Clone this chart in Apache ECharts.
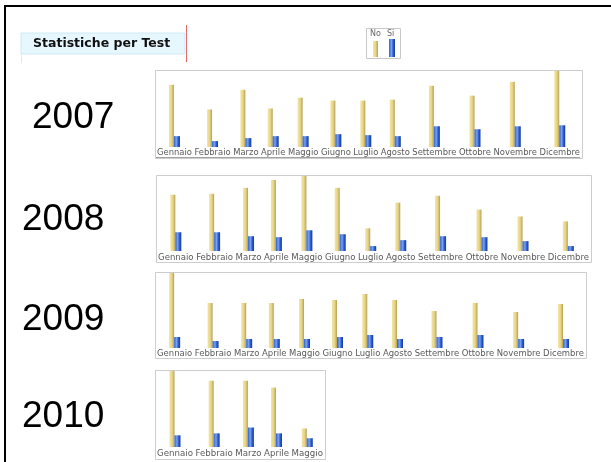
<!DOCTYPE html>
<html>
<head>
<meta charset="utf-8">
<title>Statistiche per Test</title>
<script src="https://cdn.jsdelivr.net/npm/echarts/dist/echarts.min.js"></script>
<style>
  html, body { margin: 0; padding: 0; background: #fff; }
  #chart { width: 611px; height: 462px; }
</style>
</head>
<body>
<div id="chart"></div>
<script>
// Month names used as category labels
const months = ['Gennaio', 'Febbraio', 'Marzo', 'Aprile', 'Maggio', 'Giugno',
                'Luglio', 'Agosto', 'Settembre', 'Ottobre', 'Novembre', 'Dicembre'];
const seriesNames = ['No', 'Si'];
const years = ['2007', '2008', '2009', '2010'];

// Monthly test counts per year ("No" / "Si")
const no2007 = [63, 38, 58, 39, 50, 47, 47, 48, 62, 52, 66, 77];
const si2007 = [11, 6, 9, 11, 11, 13, 12, 11, 21, 18, 21, 22];
const no2008 = [57, 58, 64, 72, 76, 64, 23, 49, 56, 42, 35, 30];
const si2008 = [19, 19, 15, 14, 21, 17, 5, 11, 15, 14, 10, 5];
const no2009 = [75, 45, 45, 45, 49, 48, 54, 48, 37, 45, 36, 44];
const si2009 = [11, 7, 9, 9, 9, 11, 13, 9, 11, 13, 9, 9];
const no2010 = [78, 68, 68, 61, 19];
const si2010 = [12, 14, 20, 14, 9];

const noByYear = [no2007, no2008, no2009, no2010];
const siByYear = [si2007, si2008, si2009, si2010];

// Panel frames: [left, top, right, bottom], plus baseline of the bars
const panelLayout = [
  { box: [155, 70, 582, 158], base: 147, yearX: 32, yearY: 118, underline: true },
  { box: [156, 175, 591, 262], base: 251, yearX: 22, yearY: 220, underline: false },
  { box: [155, 272, 586, 358], base: 348, yearX: 22, yearY: 320, underline: false },
  { box: [155, 370, 325, 459], base: 447, yearX: 22, yearY: 417, underline: false }
];

const LABEL_FONT_FAMILY = 'DejaVu Sans';
const LABEL_GAP = 2.5;

// Month labels sit side by side across the whole panel, so each bar pair is
// centred over its own label; the font is sized so the row fills the panel.
const measureCtx = document.createElement('canvas').getContext('2d');
function labelRow(names, rowWidth) {
  measureCtx.font = '10px "' + LABEL_FONT_FAMILY + '"';
  const w10 = names.map(function (n) { return measureCtx.measureText(n).width; });
  const sum10 = w10.reduce(function (a, b) { return a + b; }, 0);
  const fontSize = Math.min(9.5, 10 * (rowWidth - LABEL_GAP * (names.length - 1)) / sum10);
  const centres = [];
  let pos = 0;
  w10.forEach(function (w) {
    const ws = w * fontSize / 10;
    centres.push(pos + ws / 2);
    pos += ws + LABEL_GAP;
  });
  return { centres: centres, total: pos - LABEL_GAP, fontSize: fontSize };
}

const yellowFill = {
  type: 'linear', x: 0, y: 0, x2: 1, y2: 0,
  colorStops: [
    { offset: 0, color: '#f1e6a6' },
    { offset: 0.55, color: '#e6d485' },
    { offset: 1, color: '#b59d55' }
  ]
};
const blueFill = {
  type: 'linear', x: 0, y: 0, x2: 1, y2: 0,
  colorStops: [
    { offset: 0, color: '#2f62d0' },
    { offset: 0.4, color: '#78a2ee' },
    { offset: 0.7, color: '#2d5ccf' },
    { offset: 1, color: '#123a96' }
  ]
};

const grids = [], xAxes = [], yAxes = [], series = [], graphics = [];

years.forEach(function (year, i) {
  const lay = panelLayout[i];
  const names = months.slice(0, noByYear[i].length);
  const [x0, y0, x1, y1] = lay.box;
  const plotWidth = x1 - x0 - 4;
  const row = labelRow(names, plotWidth);

  grids.push({
    left: x0 + 2,
    top: y0 + 1,
    width: plotWidth,
    height: lay.base - (y0 + 1)
  });

  xAxes.push({
    gridIndex: i,
    type: 'value',
    min: 0,
    max: row.total,
    axisLine: { show: false },
    axisTick: { show: false },
    splitLine: { show: false },
    axisLabel: {
      customValues: row.centres,
      formatter: function (v) {
        let best = 0;
        row.centres.forEach(function (c, k) {
          if (Math.abs(c - v) < Math.abs(row.centres[best] - v)) best = k;
        });
        return names[best];
      },
      showMinLabel: true,
      showMaxLabel: true,
      hideOverlap: false,
      margin: 2,
      fontSize: row.fontSize,
      fontFamily: LABEL_FONT_FAMILY,
      color: '#5a5a5a'
    }
  });

  yAxes.push({
    gridIndex: i,
    type: 'value',
    min: 0,
    max: 'dataMax',
    show: false
  });

  series.push({
    name: seriesNames[0],
    type: 'bar',
    xAxisIndex: i,
    yAxisIndex: i,
    barWidth: 5,
    barGap: '0%',
    itemStyle: { color: yellowFill },
    data: noByYear[i].map(function (v, k) { return [row.centres[k], v]; })
  });
  series.push({
    name: seriesNames[1],
    type: 'bar',
    xAxisIndex: i,
    yAxisIndex: i,
    barWidth: 6,
    barGap: '0%',
    itemStyle: { color: blueFill },
    data: siByYear[i].map(function (v, k) { return [row.centres[k], v]; })
  });

  // panel frame
  graphics.push({
    type: 'rect',
    shape: { x: x0 + 0.5, y: y0 + 0.5, width: x1 - x0, height: y1 - y0 },
    style: { fill: null, stroke: '#cdcdcd', lineWidth: 1 },
    z: -1
  });
  if (lay.underline) {
    graphics.push({
      type: 'line',
      shape: { x1: x0 + 1, y1: lay.base + 10.5, x2: x1 - 2, y2: lay.base + 10.5 },
      style: { stroke: '#8a8a8a', lineWidth: 0.8 }
    });
  }
  // year caption
  graphics.push({
    type: 'text',
    x: lay.yearX,
    y: lay.yearY,
    style: {
      text: year,
      fontSize: 37,
      fontFamily: 'Liberation Sans',
      fill: '#000',
      verticalAlign: 'middle'
    }
  });
});

// outer frame (top and left edges)
graphics.push(
  { type: 'line', shape: { x1: 4, y1: 6, x2: 611, y2: 6 }, style: { stroke: '#000', lineWidth: 2 } },
  { type: 'line', shape: { x1: 5, y1: 5, x2: 5, y2: 462 }, style: { stroke: '#000', lineWidth: 2 } }
);

// title tab
graphics.push(
  { type: 'rect', shape: { x: 21, y: 33, width: 164, height: 21 },
    style: { fill: '#e6f7fd', stroke: '#cfeaf6', lineWidth: 1 } },
  { type: 'line', shape: { x1: 21.5, y1: 54, x2: 21.5, y2: 63 },
    style: { stroke: '#d5eef8', lineWidth: 1 } },
  { type: 'line', shape: { x1: 186.5, y1: 25, x2: 186.5, y2: 62 },
    style: { stroke: '#e36a6a', lineWidth: 1 } },
  { type: 'text', x: 33, y: 44,
    style: { text: 'Statistiche per Test', fontSize: 12.5, fontWeight: 'bold',
             fontFamily: 'DejaVu Sans', fill: '#111', verticalAlign: 'middle' } }
);

// legend box
graphics.push(
  { type: 'rect', shape: { x: 366.5, y: 28.5, width: 34, height: 30 },
    style: { fill: '#fff', stroke: '#c8c8c8', lineWidth: 1 } },
  { type: 'text', x: 370, y: 34,
    style: { text: seriesNames[0], fontSize: 8, fontFamily: 'DejaVu Sans', fill: '#666', verticalAlign: 'middle' } },
  { type: 'text', x: 387, y: 34,
    style: { text: seriesNames[1], fontSize: 8, fontFamily: 'DejaVu Sans', fill: '#666', verticalAlign: 'middle' } },
  { type: 'rect', shape: { x: 373, y: 41, width: 5, height: 16 }, style: { fill: yellowFill } },
  { type: 'rect', shape: { x: 389, y: 39, width: 6, height: 18 }, style: { fill: blueFill } }
);

const chart = echarts.init(document.getElementById('chart'), null, { renderer: 'canvas' });
chart.setOption({
  animation: false,
  backgroundColor: '#fff',
  grid: grids,
  xAxis: xAxes,
  yAxis: yAxes,
  series: series,
  graphic: graphics
});
</script>
</body>
</html>
